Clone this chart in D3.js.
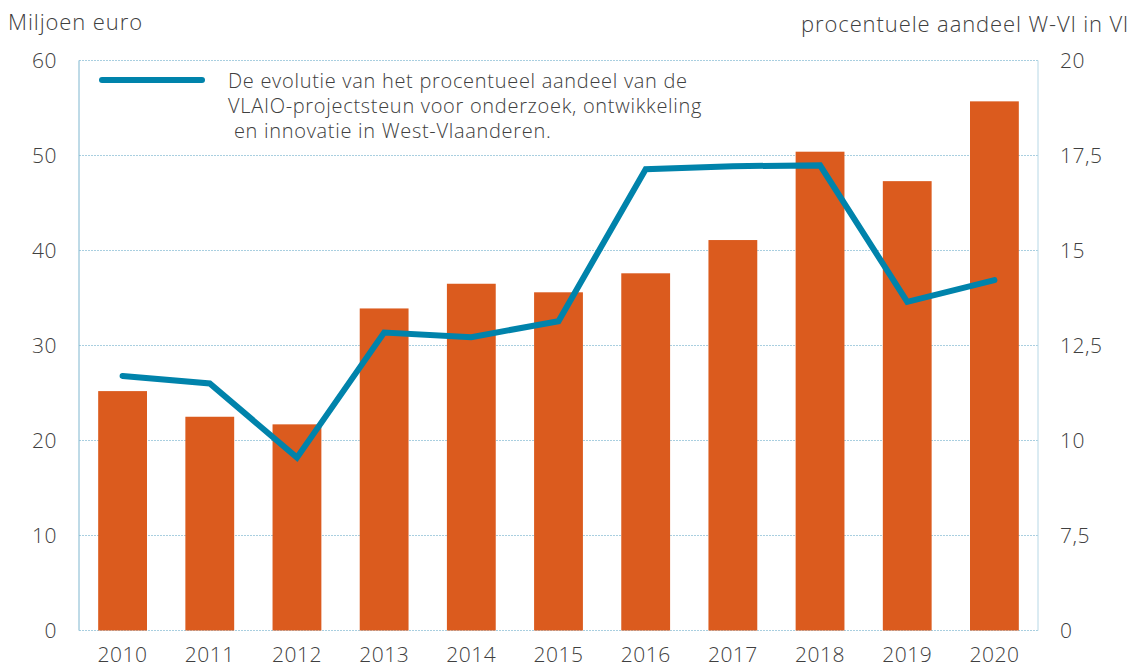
<!DOCTYPE html>
<html lang="nl">
<head>
    <meta charset="UTF-8">
    <title>VLAIO-projectsteun West-Vlaanderen</title>
    <script src="https://d3js.org/d3.v7.min.js"></script>
    <style>
        body { margin: 0; background: #fff; }
        text { font-family: "Open Sans", sans-serif; font-weight: 300; fill: #404040; letter-spacing: 0.5px; }
    </style>
</head>
<body>
    <div class="canvas"></div>
    <script>
      const years = ['2010', '2011', '2012', '2013', '2014', '2015', '2016', '2017', '2018', '2019', '2020'];
      const steun = [25.2, 22.5, 21.7, 33.9, 36.5, 35.6, 37.6, 41.1, 50.4, 47.3, 55.7];
      const aandeel = [11.7, 11.5, 9.55, 12.84, 12.72, 13.14, 17.14, 17.22, 17.24, 13.65, 14.22];
      const leftTicks = [0, 10, 20, 30, 40, 50, 60];
      const rightTicks = [5, 7.5, 10, 12.5, 15, 17.5, 20];
      const rightLabels = ['0', '7,5', '10', '12,5', '15', '17,5', '20'];
      const legendLines = ['De evolutie van het procentueel aandeel van de',
                           'VLAIO-projectsteun voor onderzoek, ontwikkeling',
                           '\u00a0en innovatie in West-Vlaanderen.'];

      const width = 1137;
      const height = 665;
      const [mt, mb, ml, mr] = [60.5, 34.5, 79, 99];
      const graphWidth = width - ml - mr;
      const graphHeight = height - mt - mb;

      const svg = d3.select('.canvas')
                      .append('svg')
                      .attr('width', width)
                      .attr('height', height);

      const graph = svg.append('g')
                        .attr('transform', `translate(${ml}, ${mt})`);

      const x = d3.scaleBand()
                    .domain(years)
                    .range([0, graphWidth])
                    .paddingInner(0.44)
                    .paddingOuter(0.22);

      const y = d3.scaleLinear()
                    .domain([0, 60])
                    .range([graphHeight, 0]);

      const y2 = d3.scaleLinear()
                    .domain([5, 20])
                    .range([graphHeight, 0]);

      // rasterlijnen
      graph.append('g')
        .selectAll('line')
        .data(leftTicks)
        .enter()
        .append('line')
        .attr('x1', 0)
        .attr('x2', graphWidth)
        .attr('y1', d => y(d))
        .attr('y2', d => y(d))
        .attr('stroke', '#a9cfe0')
        .attr('stroke-width', 1)
        .attr('stroke-dasharray', '2,1');

      graph.append('line')
        .attr('x1', 0).attr('x2', 0)
        .attr('y1', 0).attr('y2', graphHeight)
        .attr('stroke', '#7fb6cf');
      graph.append('line')
        .attr('x1', graphWidth).attr('x2', graphWidth)
        .attr('y1', 0).attr('y2', graphHeight)
        .attr('stroke', '#b7d8e6');

      graph.selectAll('rect')
        .data(steun)
        .enter()
        .append('rect')
        .attr('x', (d, i) => x(years[i]))
        .attr('width', x.bandwidth())
        .attr('y', d => y(d))
        .attr('height', d => graphHeight - y(d))
        .style('fill', '#db5b1e');

      const line = d3.line()
                      .x((d, i) => x(years[i]) + x.bandwidth() / 2)
                      .y(d => y2(d));

      graph.append('path')
        .attr('fill', 'none')
        .attr('stroke', '#0083ab')
        .attr('stroke-width', 6)
        .attr('stroke-linecap', 'round')
        .attr('stroke-linejoin', 'miter')
        .attr('d', line(aandeel));

      // assen
      const yAxis = d3.axisLeft(y).tickValues(leftTicks).tickSize(0).tickPadding(22);
      const y2Axis = d3.axisRight(y2).tickValues(rightTicks).tickSize(0).tickPadding(22)
                        .tickFormat((d, i) => rightLabels[i]);
      const xAxis = d3.axisBottom(x).tickSize(0).tickPadding(17);

      const styleAxis = g => {
        g.select('.domain').remove();
        g.selectAll('text')
          .style('font-family', '"Open Sans", sans-serif')
          .style('font-weight', 300)
          .style('font-size', '21px')
          .style('fill', '#404040');
      };

      graph.append('g').call(yAxis).call(styleAxis);
      graph.append('g').attr('transform', `translate(${graphWidth}, 0)`).call(y2Axis).call(styleAxis);
      graph.append('g').attr('transform', `translate(0, ${graphHeight})`).call(xAxis).call(styleAxis);

      // titels
      svg.append('text')
        .attr('x', 8).attr('y', 30)
        .style('font-size', '22px')
        .style('letter-spacing', '0.9px')
        .text('Miljoen euro');
      svg.append('text')
        .attr('x', 1129).attr('y', 32)
        .attr('text-anchor', 'end')
        .style('font-size', '22px')
        .style('letter-spacing', '0.9px')
        .text('procentuele aandeel W-Vl in Vl');

      // legende
      svg.append('line')
        .attr('x1', 102).attr('x2', 202)
        .attr('y1', 80).attr('y2', 80)
        .attr('stroke', '#0083ab')
        .attr('stroke-width', 6)
        .attr('stroke-linecap', 'round');

      svg.append('g')
        .selectAll('text')
        .data(legendLines)
        .enter()
        .append('text')
        .attr('x', 228)
        .attr('y', (d, i) => 88 + i * 25)
        .style('font-size', '20px')
        .style('letter-spacing', '0.7px')
        .text(d => d);
    </script>
</body>
</html>
